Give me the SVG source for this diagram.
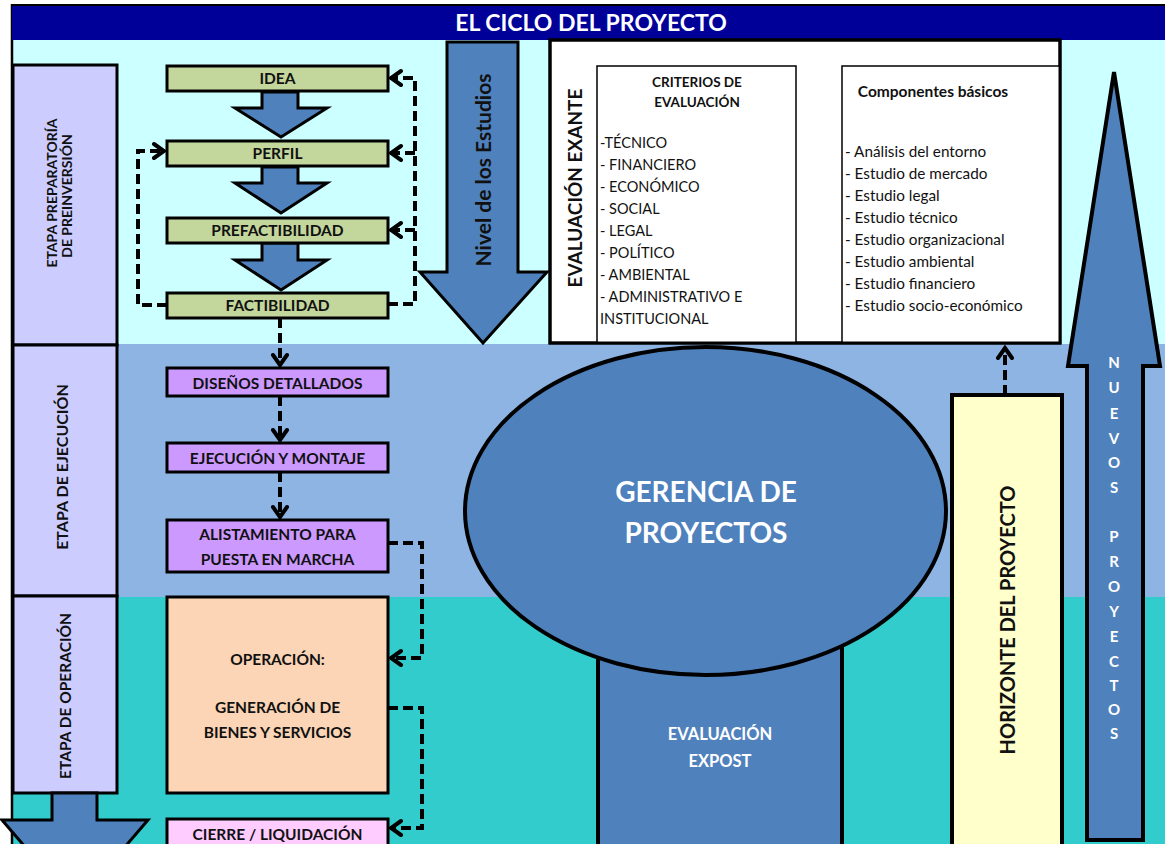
<svg xmlns="http://www.w3.org/2000/svg" width="1165" height="844" viewBox="0 0 1165 844">
<defs>
<style>
text{font-family:Lato,"Liberation Sans",sans-serif;fill:#111}
.b{font-weight:bold}
.w{fill:#fff}
.box{stroke:#000;stroke-width:3}
.thin{stroke:#000;stroke-width:1.5;fill:#fff}
.blk{fill:#4F81BD;stroke:#000;stroke-width:3;stroke-linejoin:miter}
.dash{fill:none;stroke:#000;stroke-width:4;stroke-dasharray:10 5}
.lbl{font-size:15.5px;font-weight:bold;text-anchor:middle}
.lst{font-size:14.5px}
.lst2{font-size:15.3px}
</style>
<marker id="ah" viewBox="-14 -10 16 20" refX="0" refY="0" markerWidth="16" markerHeight="20" markerUnits="userSpaceOnUse" orient="auto">
<path d="M-11,-7 L-1,0 L-11,7" fill="none" stroke="#000" stroke-width="4" stroke-linecap="round" stroke-linejoin="miter"/>
</marker>
</defs>

<g id="background">
<rect x="0" y="0" width="1165" height="844" fill="#fff"/>
<rect x="12" y="40" width="1153" height="304" fill="#CCFFFF"/>
<rect x="12" y="344" width="1153" height="253" fill="#8EB4E3"/>
<rect x="12" y="597" width="1153" height="247" fill="#33CCCC"/>
<line x1="12" y1="4" x2="12" y2="844" stroke="#000" stroke-width="2.5"/>
</g>

<g id="header">
<rect x="12" y="5" width="1153" height="35" fill="#000099"/>
<line x1="11" y1="5" x2="1165" y2="5" stroke="#000" stroke-width="2"/>
<text x="591" y="31" class="b w" font-size="23" text-anchor="middle">EL CICLO DEL PROYECTO</text>
</g>

<g id="stage-preinversion">
<rect x="13" y="65" width="104" height="280" fill="#CCCCFF" class="box"/>
<text transform="translate(57,193) rotate(-90)" class="b" font-size="14" text-anchor="middle">ETAPA PREPARATORÍA</text>
<text transform="translate(72,196) rotate(-90)" class="b" font-size="14" text-anchor="middle">DE PREINVERSIÓN</text>
</g>
<g id="stage-ejecucion">
<rect x="13" y="345" width="104" height="251" fill="#CCCCFF" class="box"/>
<text transform="translate(68,467) rotate(-90)" class="b" font-size="16" text-anchor="middle">ETAPA DE EJECUCIÓN</text>
</g>
<g id="stage-operacion">
<rect x="13" y="596" width="104" height="197" fill="#CCCCFF" class="box"/>
<text transform="translate(71,696) rotate(-90)" class="b" font-size="15.5" text-anchor="middle">ETAPA DE OPERACIÓN</text>
</g>
<g id="arrow-next">
<polygon points="52,793 97,793 97,820 148,820 75,905 2,820 52,820" class="blk"/>
</g>

<g id="block-arrows">
<polygon points="262,92 298,92 298,108 327,108 281,137 235,108 262,108" class="blk"/>
<polygon points="262,167 298,167 298,183 327,183 281,213 235,183 262,183" class="blk"/>
<polygon points="262,243 298,243 298,260 327,260 281,290 235,260 262,260" class="blk"/>
</g>

<g id="idea">
<rect x="167" y="66" width="221" height="25" fill="#C3D69B" class="box"/>
<text x="277.5" y="84" class="lbl">IDEA</text>
</g>
<g id="perfil">
<rect x="167" y="141" width="221" height="25" fill="#C3D69B" class="box"/>
<text x="277.5" y="159" class="lbl">PERFIL</text>
</g>
<g id="prefactibilidad">
<rect x="167" y="218" width="221" height="25" fill="#C3D69B" class="box"/>
<text x="277.5" y="236" class="lbl">PREFACTIBILIDAD</text>
</g>
<g id="factibilidad">
<rect x="167" y="293" width="221" height="25" fill="#C3D69B" class="box"/>
<text x="277.5" y="311" class="lbl">FACTIBILIDAD</text>
</g>

<g id="disenos">
<rect x="167" y="368" width="221" height="28" fill="#CC99FF" class="box"/>
<text x="277.5" y="389" class="lbl">DISEÑOS DETALLADOS</text>
</g>
<g id="ejecucion">
<rect x="167" y="443" width="221" height="29" fill="#CC99FF" class="box"/>
<text x="277.5" y="464" class="lbl">EJECUCIÓN Y MONTAJE</text>
</g>
<g id="alistamiento">
<rect x="167" y="520" width="221" height="52" fill="#CC99FF" class="box"/>
<text x="277.5" y="540" class="lbl">ALISTAMIENTO PARA</text>
<text x="277.5" y="565" class="lbl">PUESTA EN MARCHA</text>
</g>
<g id="operacion">
<rect x="167" y="597" width="221" height="196" fill="#FBD5B5" class="box"/>
<text x="277.5" y="665" class="lbl">OPERACIÓN:</text>
<text x="277.5" y="713" class="lbl">GENERACIÓN DE</text>
<text x="277.5" y="738" class="lbl">BIENES Y SERVICIOS</text>
</g>
<g id="cierre">
<rect x="167" y="819" width="221" height="40" fill="#FFCCFF" class="box"/>
<text x="277.5" y="840" class="lbl">CIERRE / LIQUIDACIÓN</text>
</g>

<g id="nivel-estudios">
<polygon points="447,42 518,42 518,272 547,272 483,343 420,272 447,272" class="blk"/>
<text transform="translate(491,170) rotate(-90)" class="b" font-size="21" text-anchor="middle">Nivel de los  Estudios</text>
</g>

<g id="evaluacion-exante">
<rect x="550" y="40" width="510" height="303" fill="#fff" stroke="#000" stroke-width="3"/>
<text transform="translate(582,188) rotate(-90)" class="b" font-size="19" text-anchor="middle">EVALUACIÓN EXANTE</text>
</g>
<g id="criterios">
<rect x="597" y="66" width="199" height="277" class="thin"/>
<text x="697" y="87" class="b" font-size="13.5" text-anchor="middle">CRITERIOS DE</text>
<text x="697" y="107" class="b" font-size="13.5" text-anchor="middle">EVALUACIÓN</text>
<text x="600" y="148" class="lst">-TÉCNICO</text>
<text x="600" y="170" class="lst">- FINANCIERO</text>
<text x="600" y="192" class="lst">- ECONÓMICO</text>
<text x="600" y="214" class="lst">- SOCIAL</text>
<text x="600" y="236" class="lst">- LEGAL</text>
<text x="600" y="258" class="lst">- POLÍTICO</text>
<text x="600" y="280" class="lst">- AMBIENTAL</text>
<text x="600" y="302" class="lst">- ADMINISTRATIVO E</text>
<text x="600" y="324" class="lst">INSTITUCIONAL</text>
</g>
<g id="componentes">
<rect x="842" y="66" width="218" height="277" class="thin"/>
<text x="933" y="97" class="b" font-size="15.5" text-anchor="middle">Componentes básicos</text>
<text x="845" y="157" class="lst2">- Análisis del entorno</text>
<text x="845" y="179" class="lst2">- Estudio de mercado</text>
<text x="845" y="201" class="lst2">- Estudio legal</text>
<text x="845" y="223" class="lst2">- Estudio técnico</text>
<text x="845" y="245" class="lst2">- Estudio organizacional</text>
<text x="845" y="267" class="lst2">- Estudio ambiental</text>
<text x="845" y="289" class="lst2">- Estudio financiero</text>
<text x="845" y="311" class="lst2">- Estudio socio-económico</text>
<rect x="550" y="40" width="510" height="303" fill="none" stroke="#000" stroke-width="3"/>
</g>

<g id="evaluacion-expost">
<rect x="598" y="600" width="244" height="260" fill="#4F81BD" stroke="#000" stroke-width="4"/>
<text x="720" y="740" class="b w" font-size="16.5" text-anchor="middle">EVALUACIÓN</text>
<text x="720" y="767" class="b w" font-size="16.5" text-anchor="middle">EXPOST</text>
</g>
<g id="gerencia">
<ellipse cx="705.5" cy="511" rx="240.5" ry="164" fill="#4F81BD" stroke="#000" stroke-width="4"/>
<text x="706" y="502" class="b w" font-size="28" text-anchor="middle">GERENCIA DE</text>
<text x="706" y="543" class="b w" font-size="28" text-anchor="middle">PROYECTOS</text>
</g>

<g id="horizonte">
<rect x="952" y="395" width="110" height="470" fill="#FFFFCC" stroke="#000" stroke-width="4"/>
<text transform="translate(1015,620) rotate(-90)" class="b" font-size="20" text-anchor="middle">HORIZONTE DEL PROYECTO</text>
</g>

<g id="nuevos-proyectos">
<polygon points="1114,72 1160,366 1143,366 1143,840 1087,840 1087,366 1068,366" fill="#4F81BD" stroke="#000" stroke-width="4" stroke-linejoin="miter"/>
<text class="b w" font-size="15" text-anchor="middle">
<tspan x="1114" y="368">N</tspan><tspan x="1114" y="393">U</tspan><tspan x="1114" y="419">E</tspan><tspan x="1114" y="444">V</tspan><tspan x="1114" y="468">O</tspan><tspan x="1114" y="493">S</tspan><tspan x="1114" y="542">P</tspan><tspan x="1114" y="567">R</tspan><tspan x="1114" y="592">O</tspan><tspan x="1114" y="617">Y</tspan><tspan x="1114" y="642">E</tspan><tspan x="1114" y="667">C</tspan><tspan x="1114" y="691">T</tspan><tspan x="1114" y="715">O</tspan><tspan x="1114" y="739">S</tspan>
</text>
</g>

<g id="connectors">
<path d="M388,304 H415 V78 H390" class="dash" marker-end="url(#ah)"/>
<path d="M415,153 H390" class="dash" marker-end="url(#ah)"/>
<path d="M415,230 H390" class="dash" marker-end="url(#ah)"/>
<path d="M167,305 H138 V151 H165" class="dash" marker-end="url(#ah)"/>
<path d="M280,318 V366" class="dash" marker-end="url(#ah)"/>
<path d="M280,396 V441" class="dash" marker-end="url(#ah)"/>
<path d="M280,472 V518" class="dash" marker-end="url(#ah)"/>
<path d="M388,543 H422 V658 H390" class="dash" marker-end="url(#ah)"/>
<path d="M388,708 H422 V828 H390" class="dash" marker-end="url(#ah)"/>
<path d="M1005,395 V347" class="dash" marker-end="url(#ah)"/>
</g>
</svg>
